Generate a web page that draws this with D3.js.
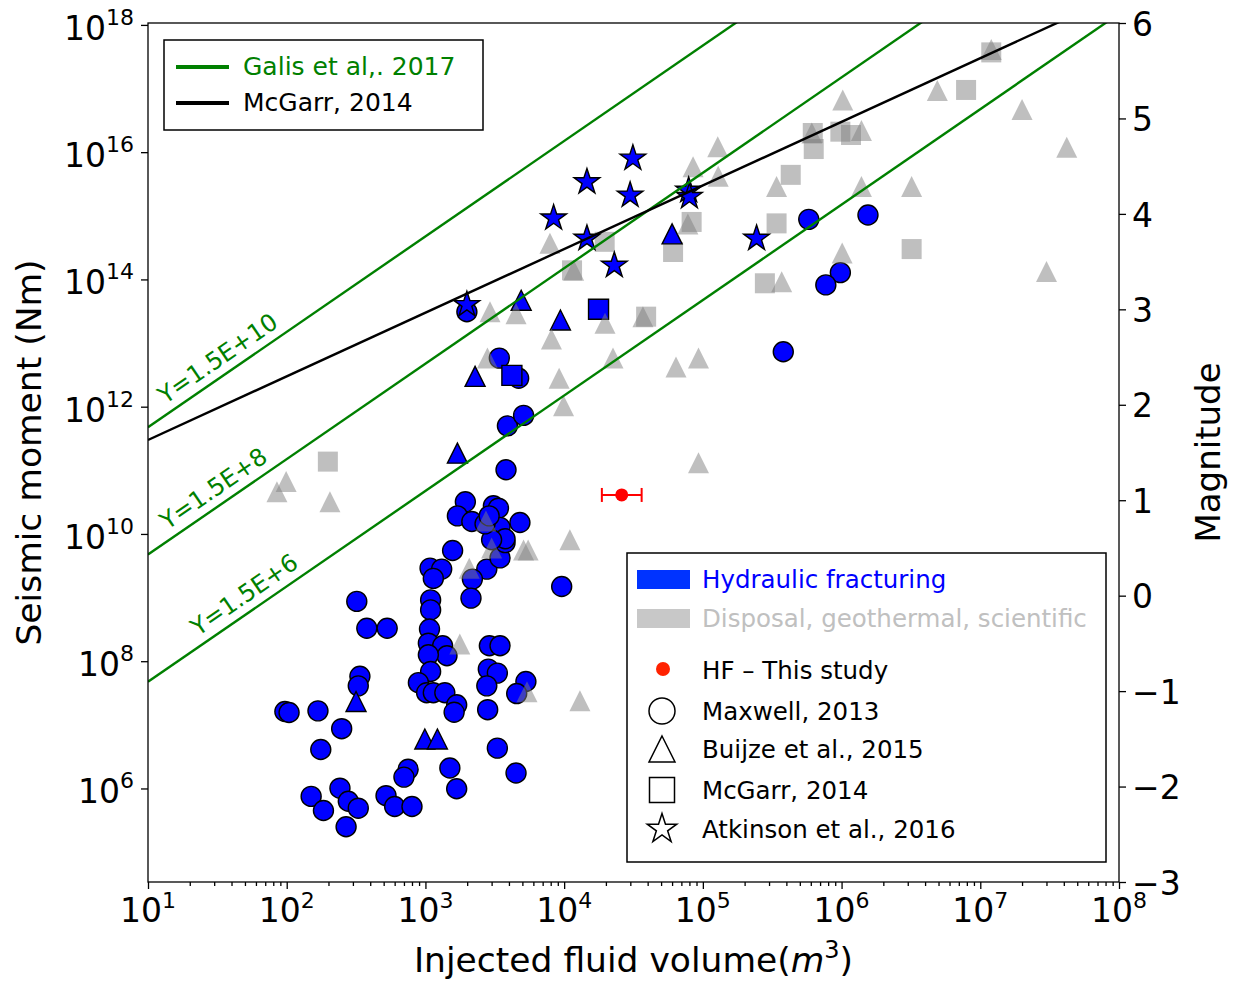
<!DOCTYPE html>
<html>
<head>
<meta charset="utf-8">
<script src="https://cdn.jsdelivr.net/npm/d3@7"></script>
<style>
  body { margin: 0; background: #fff; }
  text { font-family: "DejaVu Sans", sans-serif; }
</style>
</head>
<body>
<svg id="chart" width="1237" height="981"></svg>
<script>
// ---- data: [injected volume (m3), seismic moment (Nm)] ----
const hfMaxwell = [
  [1.57e3, 5.5e9], [1.08e3, 2.9e9], [1.31e3, 2.8e9], [1.14e3, 2.0e9], [2.77e3, 2.8e9],
  [3.45e3, 4.2e9], [3.75e3, 7.3e9], [2.18e3, 1.95e9], [2.13e3, 9.8e8], [9.6e3, 1.49e9],
  [1.09e3, 9.2e8], [1.09e3, 6.4e8], [3.2e2, 8.7e8], [3.78e2, 3.3e8], [5.3e2, 3.3e8],
  [1.07e3, 3.2e8], [1.05e3, 1.92e8], [1.33e3, 1.75e8], [1.43e3, 1.22e8], [1.05e3, 1.26e8],
  [2.89e3, 1.75e8], [3.45e3, 1.75e8], [1.09e3, 6.9e7], [2.84e3, 7.5e7], [3.3e3, 6.5e7],
  [2.77e3, 4.1e7], [3.37e2, 5.8e7], [3.28e2, 4.1e7], [8.9e2, 4.6e7], [1.02e3, 3.2e7],
  [1.14e3, 3.2e7], [1.38e3, 3.2e7], [1.68e3, 2.07e7], [1.61e3, 1.58e7], [2.81e3, 1.73e7],
  [5.3e3, 4.8e7], [4.55e3, 3.1e7], [97, 1.62e7], [1.04e2, 1.56e7], [1.68e2, 1.66e7],
  [2.49e2, 8.7e6], [1.76e2, 4.1e6], [3.3e3, 4.3e6], [1.5e3, 2.1e6], [1.68e3, 9.9e5],
  [4.5e3, 1.75e6], [7.5e2, 2.0e6], [7.0e2, 1.51e6], [2.42e2, 1.01e6], [1.5e2, 7.5e5],
  [1.84e2, 4.5e5], [2.78e2, 6.3e5], [3.28e2, 4.9e5], [2.68e2, 2.5e5], [5.2e2, 7.7e5],
  [6.0e2, 5.2e5], [8.0e2, 5.2e5], [1.99e3, 3.1e13], [3.41e3, 5.8e12], [4.7e3, 2.8e12],
  [3.9e3, 5.0e11], [5.1e3, 7.3e11], [3.81e3, 1.02e11], [1.94e3, 3.2e10], [1.70e3, 1.92e10],
  [2.16e3, 1.57e10], [3.09e3, 2.77e10], [3.36e3, 2.54e10], [4.8e3, 1.51e10], [3.45e3, 1.27e10],
  [3.75e3, 8.4e9], [3.0e3, 8.1e9], [2.69e3, 1.44e10], [2.88e3, 1.92e10], [3.8e5, 7.3e12],
  [5.8e5, 8.8e14], [1.55e6, 1.03e15], [9.8e5, 1.28e14], [7.7e5, 8.2e13]
]
const hfBuijze = [
  [3.16e2, 2.33e7], [9.9e2, 6.0e6], [1.22e3, 6.0e6], [2.28e3, 3.0e12],
  [1.70e3, 1.86e11], [4.9e3, 4.7e13], [9.4e3, 2.3e13], [6.0e4, 5.2e14]
]
const otherBuijze = [
  [2.07e3, 2.9e9], [3.0e3, 6.0e9], [5.1e3, 5.6e9], [5.5e3, 5.6e9], [1.1e4, 8.1e9],
  [1.77e3, 1.87e8], [5.4e3, 3.3e7], [1.3e4, 2.4e7], [2.92e3, 3.1e13], [4.5e3, 2.9e13],
  [8.1e3, 1.16e13], [2.8e3, 5.8e12], [9.2e3, 2.8e12], [9.9e3, 1.03e12], [99, 6.7e10],
  [85, 4.6e10], [2.05e2, 3.2e10], [2.73e3, 1.6e10], [2.25e4, 5.8e12], [6.4e4, 4.2e12],
  [9.3e4, 5.8e12], [9.3e4, 1.32e11], [7.9e3, 3.7e14], [1.17e4, 1.39e14], [1.97e4, 2.05e13],
  [3.7e4, 2.6e13], [7.8e4, 7.4e14], [1.28e5, 1.22e16], [8.5e4, 5.9e15], [1.29e5, 4.2e15],
  [3.4e5, 2.9e15], [3.7e5, 9.2e13], [1.02e6, 6.6e16], [1.39e6, 2.2e16], [6.1e5, 2.0e16],
  [1.39e6, 2.9e15], [3.2e6, 2.9e15], [1.01e6, 2.6e14], [4.9e6, 9.3e16], [1.2e7, 4.1e17],
  [2.0e7, 4.7e16], [4.2e7, 1.19e16], [3.0e7, 1.33e14]
]
const hfMcGarr = [[4.2e3, 3.1e12], [1.77e4, 3.4e13]]
const otherMcGarr = [
  [1.98e2, 1.37e11], [1.2e7, 3.7e17], [7.9e6, 9.5e16], [6.2e5, 2.0e16], [9.8e5, 2.1e16],
  [1.17e6, 1.86e16], [6.3e5, 1.12e16], [4.3e5, 4.4e15], [3.4e5, 7.6e14], [8.3e4, 8.0e14],
  [6.1e4, 2.7e14], [3.2e6, 3.0e14], [2.8e5, 8.7e13], [1.96e4, 3.9e14], [1.14e4, 1.39e14],
  [3.9e4, 2.6e13]
]
const hfAtkinson = [
  [1.99e3, 4.0e13], [3.13e4, 8.0e15], [1.46e4, 3.4e15], [2.99e4, 2.1e15], [8.4e3, 9.2e14],
  [1.46e4, 4.4e14], [2.3e4, 1.66e14], [7.9e4, 2.5e15], [8.0e4, 2.0e15], [2.44e5, 4.4e14]
]
const thisStudy = [[2.6e4, 4.1e10]]
const thisStudyVolRange = [1.87e4, 3.62e4]

const galisGamma = [1.5e10, 1.5e8, 1.5e6]
const galisLabels = ['Y=1.5E+10', 'Y=1.5E+8', 'Y=1.5E+6']
const galisLabelVol = [14.5, 15, 25]
const mcgarrG = 3e10

const xTicks = [1e1, 1e2, 1e3, 1e4, 1e5, 1e6, 1e7, 1e8]
const yTicks = [1e6, 1e8, 1e10, 1e12, 1e14, 1e16, 1e18]
const magTicks = [-3, -2, -1, 0, 1, 2, 3, 4, 5, 6]

// ---- layout ----
const margin = { left: 148, top: 23, right: 118, bottom: 99 }
const W = 1237 - margin.left - margin.right
const H = 981 - margin.top - margin.bottom
const BLUE = '#0000ff'
const GREEN = '#008000'

const svg = d3.select('#chart')
const g = svg.append('g')
  .attr('transform', 'translate(' + margin.left + ',' + margin.top + ')')

const x = d3.scaleLog().domain([1e1, 1e8]).range([0, W])
const y = d3.scaleLog().domain([Math.pow(10, 4.53), Math.pow(10, 18.03)]).range([H, 0])
const mag = d3.scaleLinear().domain([-3, 6]).range([H, 0])

svg.append('defs').append('clipPath').attr('id', 'clip')
  .append('rect').attr('width', W).attr('height', H)

// marker paths
function triPath (s) { return `M0,${-s}L${s},${s}L${-s},${s}Z` }
function sqPath (s) { return `M${-s},${-s}H${s}V${s}H${-s}Z` }
function starPath (R) {
  const r = R * 0.381966
  const pts = d3.range(10).map(i => {
    const a = -Math.PI / 2 + i * Math.PI / 5
    const rr = i % 2 ? r : R
    return [rr * Math.cos(a), rr * Math.sin(a)]
  })
  return 'M' + pts.map(p => p.join(',')).join('L') + 'Z'
}

const marks = g.append('g').attr('clip-path', 'url(#clip)')

function drawSymbols (data, path, fill, stroke) {
  marks.append('g').selectAll('path').data(data).join('path')
    .attr('d', path)
    .attr('transform', d => `translate(${x(d[0])},${y(d[1])})`)
    .attr('fill', fill)
    .attr('fill-opacity', stroke ? 1 : 0.5)
    .attr('stroke', stroke || 'none')
    .attr('stroke-width', 1.4)
}

marks.append('g').selectAll('circle').data(hfMaxwell).join('circle')
  .attr('cx', d => x(d[0]))
  .attr('cy', d => y(d[1]))
  .attr('r', 10)
  .attr('fill', BLUE)
  .attr('stroke', '#000')
  .attr('stroke-width', 1.4)

drawSymbols(otherMcGarr, sqPath(10), '#808080', null)
drawSymbols(hfMcGarr, sqPath(10), BLUE, '#000')
drawSymbols(hfBuijze, triPath(10), BLUE, '#000')
drawSymbols(otherBuijze, triPath(10.5), '#808080', null)
drawSymbols(hfAtkinson, starPath(13.5), BLUE, '#000')

// relations
const vols = x.domain()
const line = d3.line().x(d => x(d[0])).y(d => y(d[1]))
galisGamma.forEach(gam => {
  marks.append('path')
    .attr('d', line(vols.map(v => [v, gam * Math.pow(v, 1.5)])))
    .attr('fill', 'none')
    .attr('stroke', GREEN)
    .attr('stroke-width', 2.4)
})
marks.append('path')
  .attr('d', line(vols.map(v => [v, mcgarrG * v])))
  .attr('fill', 'none')
  .attr('stroke', '#000')
  .attr('stroke-width', 2.4)

const slopeAngle = Math.atan2(y(1e10) - y(Math.pow(10, 11.5)), x(1e2) - x(1e1)) * 180 / Math.PI
galisGamma.forEach((gam, i) => {
  const v = galisLabelVol[i]
  g.append('text')
    .attr('transform', `translate(${x(v)},${y(gam * Math.pow(v, 1.5))}) rotate(${-slopeAngle})`)
    .attr('y', -9)
    .attr('fill', GREEN)
    .attr('font-size', 24)
    .text(galisLabels[i])
})

// this study with volume error bar
const ts = g.append('g')
ts.append('line')
  .attr('x1', x(thisStudyVolRange[0])).attr('x2', x(thisStudyVolRange[1]))
  .attr('y1', y(thisStudy[0][1])).attr('y2', y(thisStudy[0][1]))
  .attr('stroke', 'red').attr('stroke-width', 2)
thisStudyVolRange.forEach(v => {
  ts.append('line')
    .attr('x1', x(v)).attr('x2', x(v))
    .attr('y1', y(thisStudy[0][1]) - 7).attr('y2', y(thisStudy[0][1]) + 7)
    .attr('stroke', 'red').attr('stroke-width', 2)
})
ts.selectAll('circle').data(thisStudy).join('circle')
  .attr('cx', d => x(d[0])).attr('cy', d => y(d[1]))
  .attr('r', 6.5).attr('fill', 'red')

// axes
function styleAxis (sel) {
  sel.select('.domain').remove()
  sel.selectAll('.tick line').attr('stroke', '#000').attr('stroke-width', 1.3)
}
const xMinor = []
d3.range(1, 8).forEach(k => d3.range(2, 10).forEach(m => xMinor.push(m * Math.pow(10, k))))

g.append('g').attr('transform', `translate(0,${H})`)
  .call(d3.axisBottom(x).tickValues(xMinor).tickSize(4).tickFormat(''))
  .call(styleAxis)
g.append('g').attr('transform', `translate(0,${H})`)
  .call(d3.axisBottom(x).tickValues(xTicks).tickSize(7).tickFormat(''))
  .call(styleAxis)
g.append('g')
  .call(d3.axisLeft(y).tickValues(yTicks).tickSize(7).tickFormat(''))
  .call(styleAxis)
const right = g.append('g').attr('transform', `translate(${W},0)`)
  .call(d3.axisRight(mag).tickValues(magTicks).tickSize(7).tickPadding(6)
    .tickFormat(d => d < 0 ? '\u2212' + Math.abs(d) : d))
  .call(styleAxis)
right.selectAll('text').attr('font-size', 33).attr('font-family', 'DejaVu Sans')
  .attr('fill', '#000').attr('dy', '0.37em')

function powLabel (sel, sup) {
  sel.append('tspan').text('10')
  sel.append('tspan').attr('font-size', 22).attr('dy', sup).text(d => Math.round(Math.log10(d)))
}
g.selectAll('.xlab').data(xTicks).join('text')
  .attr('x', d => x(d)).attr('y', H + 40)
  .attr('text-anchor', 'middle').attr('font-size', 33)
  .call(powLabel, -14)
g.selectAll('.ylab').data(yTicks).join('text')
  .attr('x', -14).attr('y', d => y(d) + 15)
  .attr('text-anchor', 'end').attr('font-size', 33)
  .call(powLabel, -15)

g.append('rect').attr('width', W).attr('height', H)
  .attr('fill', 'none').attr('stroke', '#000').attr('stroke-width', 1.3)

// axis titles
const xt = svg.append('text').attr('x', margin.left + W / 2).attr('y', 972)
  .attr('text-anchor', 'middle').attr('font-size', 34.5)
xt.append('tspan').text('Injected fluid volume(')
xt.append('tspan').attr('font-style', 'italic').text('m')
xt.append('tspan').attr('font-size', 24).attr('dy', -14).text('3')
xt.append('tspan').attr('dy', 14).text(')')

svg.append('text')
  .attr('transform', `translate(41,${margin.top + H / 2}) rotate(-90)`)
  .attr('text-anchor', 'middle').attr('font-size', 34.5)
  .text('Seismic moment (Nm)')
svg.append('text')
  .attr('transform', `translate(1220,${margin.top + H / 2}) rotate(-90)`)
  .attr('text-anchor', 'middle').attr('font-size', 34)
  .text('Magnitude')

// legend: relations
const lg1 = svg.append('g')
lg1.append('rect').attr('x', 164).attr('y', 40).attr('width', 319).attr('height', 90)
  .attr('fill', '#fff').attr('stroke', '#000').attr('stroke-width', 1.5)
const relRows = [['Galis et al,. 2017', GREEN, 67], ['McGarr, 2014', '#000', 103]]
relRows.forEach(([t, c, yy]) => {
  lg1.append('line').attr('x1', 176).attr('x2', 229).attr('y1', yy).attr('y2', yy)
    .attr('stroke', c).attr('stroke-width', 4)
  lg1.append('text').attr('x', 243).attr('y', yy + 8).attr('font-size', 25)
    .attr('fill', c).text(t)
})

// legend: categories and sources
const lg2 = svg.append('g')
lg2.append('rect').attr('x', 627).attr('y', 553).attr('width', 479).attr('height', 309)
  .attr('fill', '#fff').attr('stroke', '#000').attr('stroke-width', 1.5)
lg2.append('rect').attr('x', 637).attr('y', 570).attr('width', 53).attr('height', 19).attr('fill', '#0033ff')
lg2.append('text').attr('x', 702).attr('y', 588).attr('font-size', 24.5).attr('fill', BLUE)
  .text('Hydraulic fracturing')
lg2.append('rect').attr('x', 637).attr('y', 609).attr('width', 53).attr('height', 19).attr('fill', '#c8c8c8')
lg2.append('text').attr('x', 702).attr('y', 627).attr('font-size', 24.5).attr('fill', '#c0c0c0')
  .text('Disposal, geothermal, scientific')
lg2.append('circle').attr('cx', 663).attr('cy', 669).attr('r', 7).attr('fill', '#ff2200')
lg2.append('text').attr('x', 702).attr('y', 679).attr('font-size', 24.5).text('HF \u2013 This study')

const srcRows = [
  ['Maxwell, 2013', 'circle', 711],
  ['Buijze et al., 2015', 'tri', 749],
  ['McGarr, 2014', 'sq', 790],
  ['Atkinson et al., 2016', 'star', 829]
]
srcRows.forEach(([t, shape, yy]) => {
  if (shape === 'circle') {
    lg2.append('circle').attr('cx', 662).attr('cy', yy).attr('r', 13)
      .attr('fill', 'none').attr('stroke', '#000').attr('stroke-width', 1.5)
  } else {
    const p = shape === 'tri' ? triPath(13) : shape === 'sq' ? sqPath(12.5) : starPath(15.5)
    lg2.append('path').attr('d', p).attr('transform', `translate(662,${yy})`)
      .attr('fill', 'none').attr('stroke', '#000').attr('stroke-width', 1.5)
  }
  lg2.append('text').attr('x', 702).attr('y', yy + 9).attr('font-size', 24.5).text(t)
})
</script>
</body>
</html>
